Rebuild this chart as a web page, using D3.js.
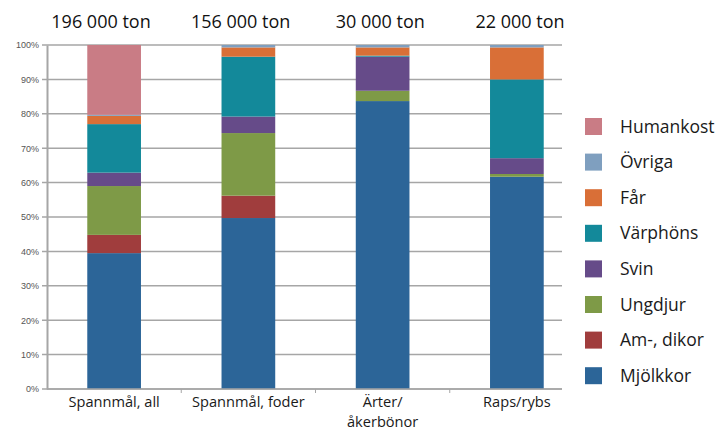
<!DOCTYPE html>
<html>
<head>
<meta charset="utf-8">
<script src="https://cdn.jsdelivr.net/npm/d3@7"></script>
<style>
  body { margin: 0; background: #fff; }
  text { font-family: "Open Sans", "Noto Sans", sans-serif; }
</style>
</head>
<body>
<svg width="719" height="430"></svg>
<script>
var categories = ["Spannmål, all", "Spannmål, foder", "Ärter/\nåkerbönor", "Raps/rybs"];
var totals = ["196 000 ton", "156 000 ton", "30 000 ton", "22 000 ton"];
var groups = ["Mjölkkor", "Am-, dikor", "Ungdjur", "Svin", "Värphöns", "Får", "Övriga", "Humankost"];
var colors = ["#2c6598", "#a03d3d", "#7e9a47", "#664b89", "#13899a", "#d96f37", "#7f9fbf", "#c97c85"];

// percent shares per category, same order as groups
var mjolkkor  = [39.5, 49.7, 83.7, 61.7];
var amdikor   = [5.3, 6.5, 0, 0];
var ungdjur   = [14.2, 18.2, 3.0, 0.8];
var svin      = [3.9, 4.8, 9.9, 4.6];
var varphons  = [14.1, 17.4, 0.3, 22.9];
var far       = [2.4, 2.7, 2.4, 9.3];
var ovriga    = [0.3, 0.7, 0.7, 0.7];
var humankost = [20.3, 0, 0, 0];
var yTicks = [0, 10, 20, 30, 40, 50, 60, 70, 80, 90, 100];

var series = [mjolkkor, amdikor, ungdjur, svin, varphons, far, ovriga, humankost];

var svg = d3.select("svg");

var rows = categories.map(function(c, i) {
  var r = {cat: c};
  groups.forEach(function(g, j) { r[g] = series[j][i]; });
  return r;
});

var x = d3.scaleBand()
    .domain(categories)
    .range([47, 584])
    .paddingInner(0.6)
    .paddingOuter(0.3);

var xTitle = d3.scalePoint()
    .domain(categories)
    .range([101, 520]);

var y = d3.scaleLinear()
    .domain([0, 100])
    .range([389, 45]);

var color = d3.scaleOrdinal().domain(groups).range(colors);

// gridlines
svg.append("g")
  .selectAll("line")
  .data(yTicks)
  .enter().append("line")
    .attr("x1", 42)
    .attr("x2", 562)
    .attr("y1", function(d) { return y(d); })
    .attr("y2", function(d) { return y(d); })
    .attr("stroke", "#a6a6a6")
    .attr("stroke-width", 1.5);

// y axis
var yAxis = svg.append("g")
    .attr("transform", "translate(47,0)")
    .call(d3.axisLeft(y).tickValues(yTicks).tickSize(0).tickPadding(8)
      .tickFormat(function(d) { return d + "%"; }));
yAxis.select(".domain").attr("stroke", "#a6a6a6").attr("stroke-width", 2);
yAxis.selectAll("text")
    .attr("fill", "#555")
    .style("font-size", "9px")
    .style("font-family", "Liberation Sans Narrow, Arial, sans-serif");

// stacked bars
var stack = d3.stack().keys(groups)(rows);

svg.append("g")
  .selectAll("g")
  .data(stack)
  .enter().append("g")
    .attr("fill", function(d) { return color(d.key); })
  .selectAll("rect")
  .data(function(d) { return d; })
  .enter().append("rect")
    .attr("x", function(d) { return x(d.data.cat); })
    .attr("width", x.bandwidth())
    .attr("y", function(d) { return y(d[1]); })
    .attr("height", function(d) { return y(d[0]) - y(d[1]); });

// x axis base
var xAxis = svg.append("g")
    .attr("transform", "translate(0," + y(0) + ")");
xAxis.append("line")
    .attr("x1", 47).attr("x2", 562)
    .attr("stroke", "#a6a6a6").attr("stroke-width", 1.5);
xAxis.selectAll(".tick")
  .data(categories.slice(1))
  .enter().append("line")
    .attr("x1", function(d) { return x(d) - x.step() * x.paddingInner() / 2; })
    .attr("x2", function(d) { return x(d) - x.step() * x.paddingInner() / 2; })
    .attr("y1", 0).attr("y2", 4)
    .attr("stroke", "#a6a6a6");

// category labels
var lab = svg.append("g")
  .selectAll("text")
  .data(categories)
  .enter().append("text")
    .attr("text-anchor", "middle")
    .attr("y", 407)
    .style("font-size", "14.6px")
    .attr("fill", "#1a1a1a");
lab.selectAll("tspan")
  .data(function(d) { return d.split("\n").map(function(s) { return {s: s, c: d}; }); })
  .enter().append("tspan")
    .attr("x", function(d) { return x(d.c) + x.bandwidth() / 2; })
    .attr("dy", function(d, i) { return i ? 20 : 0; })
    .text(function(d) { return d.s; });

// totals on top
svg.append("g")
  .selectAll("text")
  .data(categories)
  .enter().append("text")
    .attr("x", function(d) { return xTitle(d); })
    .attr("y", 28)
    .attr("text-anchor", "middle")
    .style("font-size", "18px")
    .attr("fill", "#111")
    .text(function(d, i) { return totals[i]; });

// legend
var legend = svg.append("g")
  .selectAll("g")
  .data(groups.slice().reverse())
  .enter().append("g")
    .attr("transform", function(d, i) { return "translate(585," + (118 + i * 35.6) + ")"; });

legend.append("rect")
    .attr("width", 17)
    .attr("height", 17)
    .attr("fill", function(d) { return color(d); });

legend.append("text")
    .attr("x", 35)
    .attr("y", 8.5)
    .attr("dy", "0.35em")
    .style("font-size", "17.5px")
    .attr("fill", "#1a1a1a")
    .text(function(d) { return d; });
</script>
</body>
</html>
